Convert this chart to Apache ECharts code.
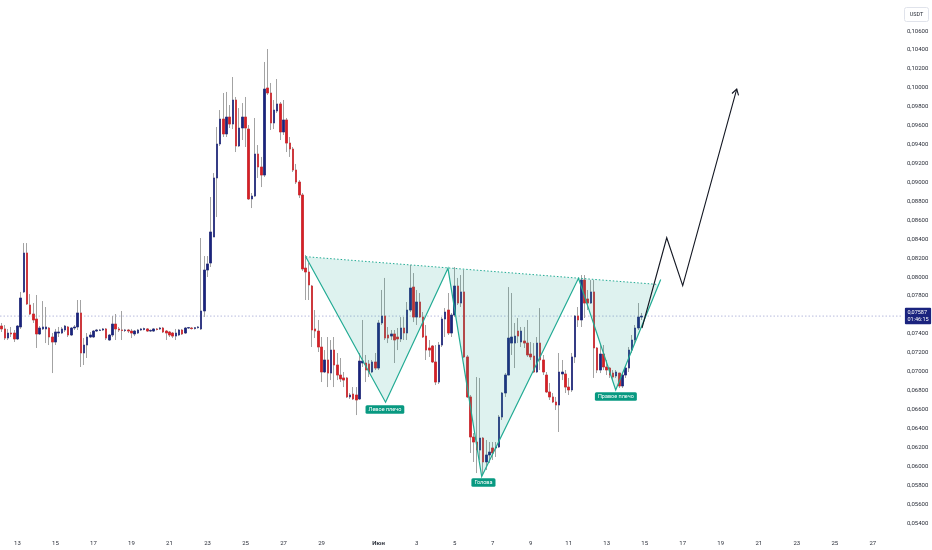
<!DOCTYPE html>
<html>
<head>
<meta charset="utf-8">
<script src="https://cdn.jsdelivr.net/npm/echarts@6/dist/echarts.min.js"></script>
<style>
html,body{margin:0;padding:0;background:#fff;}
#chart{width:932px;height:550px;}
</style>
</head>
<body>
<div id="chart"></div>
<script>
// 4h candles, first candle 12 May 04:00
const startTime = Date.UTC(2024, 4, 12, 4);
const slotCount = 285;
// [open, close, low, high]
const candles = [
[0.07482,0.07451,0.07419,0.07514],[0.07451,0.07355,0.07334,0.07493],[0.07355,0.07408,0.07334,0.07451],[0.07408,0.07398,0.07366,0.07472],
[0.07408,0.07345,0.07313,0.07440],[0.07345,0.07482,0.07334,0.07493],[0.07472,0.07778,0.07451,0.07842],[0.07842,0.08254,0.07831,0.08359],
[0.08254,0.07715,0.07704,0.08359],[0.07704,0.07609,0.07598,0.07820],[0.07609,0.07546,0.07514,0.07725],[0.07556,0.07398,0.07250,0.07810],
[0.07398,0.07461,0.07387,0.07482],[0.07451,0.07472,0.07440,0.07746],[0.07451,0.07472,0.07302,0.07683],[0.07461,0.07366,0.07281,0.07472],
[0.07366,0.07313,0.06985,0.07408],[0.07313,0.07419,0.07281,0.07451],[0.07408,0.07419,0.07366,0.07472],[0.07408,0.07451,0.07398,0.07472],
[0.07440,0.07482,0.07419,0.07493],[0.07472,0.07387,0.07366,0.07482],[0.07387,0.07461,0.07376,0.07472],[0.07461,0.07472,0.07440,0.07493],
[0.07472,0.07620,0.07440,0.07757],[0.07620,0.07197,0.07049,0.07757],[0.07197,0.07281,0.07070,0.07355],[0.07281,0.07366,0.07144,0.07408],
[0.07366,0.07387,0.07355,0.07419],[0.07366,0.07429,0.07355,0.07440],[0.07429,0.07440,0.07419,0.07451],[0.07436,0.07440,0.07429,0.07451],
[0.07440,0.07451,0.07429,0.07461],[0.07451,0.07355,0.07334,0.07461],[0.07334,0.07387,0.07324,0.07398],[0.07387,0.07503,0.07366,0.07588],
[0.07503,0.07451,0.07334,0.07609],[0.07451,0.07440,0.07419,0.07472],[0.07440,0.07436,0.07334,0.07641],[0.07436,0.07440,0.07419,0.07451],
[0.07440,0.07429,0.07408,0.07451],[0.07429,0.07408,0.07355,0.07451],[0.07398,0.07429,0.07376,0.07440],[0.07408,0.07440,0.07398,0.07451],
[0.07440,0.07451,0.07429,0.07461],[0.07445,0.07455,0.07436,0.07465],[0.07451,0.07429,0.07419,0.07461],[0.07429,0.07436,0.07419,0.07445],
[0.07429,0.07451,0.07419,0.07461],[0.07451,0.07445,0.07436,0.07461],[0.07451,0.07461,0.07440,0.07472],[0.07461,0.07419,0.07408,0.07472],
[0.07429,0.07408,0.07334,0.07440],[0.07419,0.07387,0.07366,0.07429],[0.07408,0.07376,0.07355,0.07419],[0.07376,0.07408,0.07334,0.07451],
[0.07387,0.07440,0.07376,0.07451],[0.07440,0.07398,0.07387,0.07451],[0.07408,0.07461,0.07398,0.07472],[0.07461,0.07465,0.07451,0.07472],
[0.07461,0.07455,0.07445,0.07472],[0.07455,0.07465,0.07445,0.07472],[0.07465,0.07472,0.07455,0.07482],[0.07451,0.07641,0.07440,0.08412],
[0.07641,0.08074,0.07577,0.08222],[0.08074,0.08138,0.08000,0.08222],[0.08148,0.08476,0.08106,0.08846],[0.08423,0.09047,0.08423,0.09099],
[0.09047,0.09406,0.08634,0.09586],[0.09406,0.09670,0.09385,0.09765],[0.09670,0.09512,0.09480,0.09945],[0.09512,0.09691,0.09480,0.09956],
[0.09691,0.09617,0.09575,0.09818],[0.09617,0.09871,0.09564,0.10114],[0.09871,0.09385,0.09321,0.09903],[0.09385,0.09575,0.09374,0.09786],
[0.09575,0.09691,0.09448,0.09839],[0.09691,0.09575,0.09374,0.09903],[0.09564,0.08825,0.08814,0.09607],[0.08825,0.08856,0.08729,0.08888],
[0.08856,0.09300,0.08846,0.09681],[0.09300,0.09163,0.09047,0.09395],[0.09163,0.09078,0.08951,0.09269],[0.09078,0.09987,0.09057,0.10273],
[0.09998,0.09945,0.09924,0.10410],[0.09945,0.09628,0.09554,0.10051],[0.09628,0.09765,0.09564,0.09871],[0.09755,0.09829,0.09734,0.10093],
[0.09829,0.09533,0.09448,0.09850],[0.09533,0.09660,0.09501,0.09871],[0.09660,0.09416,0.09321,0.09681],[0.09416,0.09353,0.09269,0.09480],
[0.09353,0.09131,0.09110,0.09374],[0.09131,0.09004,0.08983,0.09195],[0.09004,0.08867,0.08835,0.09025],[0.08867,0.08085,0.08064,0.08888],
[0.08095,0.08053,0.07757,0.08233],[0.08053,0.07916,0.07757,0.08148],[0.07905,0.07440,0.07260,0.07916],[0.07451,0.07429,0.07355,0.07651],
[0.07429,0.07260,0.07207,0.07546],[0.07260,0.06996,0.06890,0.07366],[0.06996,0.07123,0.06985,0.07228],[0.07123,0.06985,0.06837,0.07366],
[0.06985,0.07228,0.06911,0.07334],[0.07228,0.07070,0.06837,0.07366],[0.07070,0.06964,0.06911,0.07197],[0.06964,0.06922,0.06890,0.07144],
[0.06933,0.06911,0.06837,0.06996],[0.06933,0.06732,0.06721,0.06943],[0.06732,0.06753,0.06711,0.06774],[0.06763,0.06711,0.06700,0.06837],
[0.06753,0.06700,0.06541,0.06837],[0.06711,0.07112,0.06700,0.07197],[0.07091,0.07112,0.07049,0.07546],[0.07091,0.07017,0.06890,0.07176],
[0.07081,0.06996,0.06943,0.07123],[0.06996,0.07102,0.06985,0.07123],[0.07102,0.07038,0.07017,0.07197],[0.07038,0.07514,0.07017,0.07546],
[0.07514,0.07588,0.07493,0.07863],[0.07588,0.07355,0.07334,0.07990],[0.07387,0.07355,0.07302,0.07472],[0.07376,0.07398,0.07334,0.07440],
[0.07398,0.07334,0.07091,0.07440],[0.07366,0.07345,0.07228,0.07461],[0.07345,0.07461,0.07313,0.07577],[0.07461,0.07408,0.07334,0.07577],
[0.07408,0.07651,0.07334,0.07736],[0.07651,0.07884,0.07630,0.08127],[0.07894,0.07577,0.07524,0.08042],[0.07577,0.07736,0.07493,0.07863],
[0.07736,0.07577,0.07567,0.07831],[0.07577,0.07366,0.07355,0.07630],[0.07376,0.07228,0.07123,0.07493],[0.07250,0.07228,0.07155,0.07334],
[0.07271,0.07102,0.07091,0.07281],[0.07102,0.06890,0.06858,0.07281],[0.06890,0.07281,0.06869,0.07313],[0.07281,0.07556,0.07260,0.07577],
[0.07556,0.07630,0.07366,0.07672],[0.07651,0.07408,0.07387,0.07831],[0.07408,0.07598,0.07366,0.07620],[0.07598,0.07905,0.07577,0.08106],
[0.07905,0.07725,0.07704,0.07990],[0.07725,0.07842,0.07683,0.08021],[0.07842,0.07155,0.07144,0.08074],[0.07155,0.06732,0.06721,0.07176],
[0.06732,0.06309,0.06140,0.06753],[0.06309,0.06256,0.06045,0.06351],[0.06256,0.06171,0.05928,0.06943],[0.06171,0.06298,0.06066,0.06933],
[0.06298,0.06045,0.05907,0.06309],[0.06045,0.06119,0.05960,0.06277],[0.06119,0.06150,0.06034,0.06256],[0.06193,0.06140,0.06066,0.06256],
[0.06193,0.06203,0.06098,0.06256],[0.06203,0.06520,0.06193,0.06541],[0.06520,0.06774,0.06489,0.06785],[0.06774,0.06964,0.06732,0.06985],
[0.06964,0.07355,0.06964,0.07894],[0.07302,0.07366,0.07176,0.07831],[0.07302,0.07376,0.07038,0.07514],[0.07429,0.07376,0.07302,0.07567],
[0.07313,0.07429,0.07260,0.07472],[0.07324,0.07302,0.07250,0.07472],[0.07302,0.07176,0.07155,0.07546],[0.07186,0.07155,0.07123,0.07313],
[0.07165,0.06996,0.06985,0.07302],[0.06996,0.07302,0.06985,0.07366],[0.07302,0.07123,0.07017,0.07672],[0.07123,0.06996,0.06964,0.07176],
[0.06964,0.06785,0.06774,0.06996],[0.06785,0.06732,0.06700,0.06880],[0.06732,0.06679,0.06668,0.06774],[0.06679,0.06647,0.06594,0.06732],
[0.06647,0.06996,0.06362,0.07197],[0.06975,0.06996,0.06911,0.07123],[0.06975,0.06837,0.06774,0.07017],[0.06837,0.06806,0.06753,0.06933],
[0.06806,0.07155,0.06785,0.07197],[0.07155,0.07588,0.07091,0.07598],[0.07588,0.07546,0.07472,0.07683],[0.07546,0.07968,0.07472,0.08021],
[0.07968,0.07725,0.07567,0.08021],[0.07768,0.07725,0.07651,0.07863],[0.07725,0.07842,0.07715,0.07968],[0.07842,0.07250,0.06933,0.07968],
[0.07250,0.07017,0.06985,0.07260],[0.07017,0.07186,0.06985,0.07281],[0.07186,0.07049,0.07017,0.07281],[0.07049,0.07017,0.06964,0.07123],
[0.07038,0.06964,0.06933,0.07049],[0.06985,0.06943,0.06911,0.07017],[0.06954,0.06996,0.06933,0.07017],[0.06985,0.06848,0.06827,0.06985],
[0.06848,0.06964,0.06827,0.06975],[0.06964,0.07038,0.06933,0.07070],[0.07038,0.07228,0.06996,0.07260],[0.07228,0.07334,0.07197,0.07387],
[0.07334,0.07461,0.07302,0.07493],[0.07461,0.07577,0.07440,0.07725],[0.07577,0.07587,0.07546,0.07620]
];
const lastPrice = 0.07587;
const lastPriceText = '0,07587\n01:46:15';
// pattern drawing in [candle index, price]
const patternPts = [[96.0,0.08215],[121.2,0.06676],[140.9,0.08092],[151.55,0.05891],[182.1,0.07986],[193.85,0.06806],[208.05,0.07974]];
const necklinePts = [[96.0,0.08215],[207.4,0.07921]];
const projectionPts = [[202.15,0.07461],[209.95,0.08415],[215.0,0.07908],[232.05,0.09987]];
const patternLabels = [
  {text:'Левое плечо', pos:[121.0,0.06600]},
  {text:'Голова', pos:[152.1,0.05828]},
  {text:'Правое плечо', pos:[193.9,0.06737]}
];
const yMin = 0.054, yMax = 0.108, yStep = 0.002;

const categories = [];
for (let i = 0; i < slotCount; i++) {
  const d = new Date(startTime + i * 4 * 3600 * 1000);
  const s = d.getUTCFullYear() + '-' + String(d.getUTCMonth()+1).padStart(2,'0') + '-' +
    String(d.getUTCDate()).padStart(2,'0') + ' ' + String(d.getUTCHours()).padStart(2,'0');
  categories.push(s);
}
const bodies = candles.map(r => [r[0], r[1], Math.min(r[0], r[1]), Math.max(r[0], r[1])]);

const FONT = 'Roboto, "Liberation Sans", sans-serif';
const TEAL = '#22ab94';
const chart = echarts.init(document.getElementById('chart'), null, {renderer:'canvas'});
const bull = '#1a237e', bear = '#d81e25', wick = '#a3a3a3';

chart.setOption({
  animation: false,
  backgroundColor: '#ffffff',
  grid: {left: 0, right: 29.1, top: 12.12, bottom: 27},
  xAxis: [{
    type: 'category',
    data: categories,
    boundaryGap: true,
    axisLine: {show: false},
    axisTick: {show: false},
    splitLine: {show: false},
    axisLabel: {
      interval: function (idx, val) {
        const day = +val.slice(8, 10), hour = +val.slice(11, 13);
        return hour === 0 && day % 2 === 1 && day !== 31;
      },
      formatter: function (val) {
        const day = +val.slice(8, 10);
        return day === 1 ? '{m|Июн}' : String(day);
      },
      rich: {m: {fontWeight: 'bold', fontSize: 6, color: '#2a2e39', fontFamily: FONT}},
      fontSize: 6, color: '#2a2e39', fontFamily: FONT, margin: 17
    }
  }, {
    type: 'value', min: -0.5, max: slotCount - 0.5, show: false
  }],
  yAxis: {
    type: 'value', position: 'right', min: yMin, max: yMax, interval: yStep,
    axisLine: {show: false}, axisTick: {show: false}, splitLine: {show: false},
    axisLabel: {
      fontSize: 6, color: '#2a2e39', fontFamily: FONT, margin: 4,
      formatter: function (v) {
        if (v > 0.1065) return '';
        if (Math.abs(v - lastPrice) < 0.0006) return '';
        return v.toFixed(5).replace('.', ',');
      }
    }
  },
  series: [{
    type: 'candlestick', name: 'wick', data: candles, barWidth: 2,
    itemStyle: {color: wick, color0: wick, borderColor: wick, borderColor0: wick, borderWidth: 1},
    silent: true
  }, {
    type: 'candlestick', name: 'body', data: bodies, barWidth: 2,
    itemStyle: {color: bull, color0: bear, borderColor: bull, borderColor0: bear, borderWidth: 0.6},
    silent: true
  }, {
    type: 'line', name: 'last', xAxisIndex: 1, yAxisIndex: 0,
    data: [[-0.5, lastPrice], [slotCount - 0.5, lastPrice]],
    symbol: 'none', silent: true, z: 1, clip: false,
    lineStyle: {type: [1.5, 2], color: '#a4a9d6', width: 0.8},
    endLabel: {
      show: true, distance: 2, formatter: lastPriceText,
      backgroundColor: bull, color: '#fff', fontSize: 5.5, lineHeight: 7,
      padding: [1.5, 2.5, 1, 2.5], fontFamily: FONT, borderRadius: 1
    }
  }, {
    type: 'custom', name: 'drawing', xAxisIndex: 1, yAxisIndex: 0,
    data: [[0, 0.07]], clip: false, silent: true, z: 5,
    renderItem: function (params, api) {
      const pat = patternPts.map(p => api.coord(p));
      const neck = necklinePts.map(p => api.coord(p));
      const proj = projectionPts.map(p => api.coord(p));
      const poly = pat.slice(0, 6).concat([neck[1]]);
      const a = proj[proj.length - 1], b = proj[proj.length - 2];
      const ang = Math.atan2(a[1] - b[1], a[0] - b[0]);
      const L = 6.5, sp = 0.55;
      const h1 = [a[0] - L * Math.cos(ang - sp), a[1] - L * Math.sin(ang - sp)];
      const h2 = [a[0] - L * Math.cos(ang + sp), a[1] - L * Math.sin(ang + sp)];
      const children = [
        {type: 'polygon', shape: {points: poly}, style: {fill: 'rgba(34,171,148,0.15)', stroke: null}},
        {type: 'polyline', shape: {points: neck}, style: {stroke: TEAL, lineWidth: 1, lineDash: [1.5, 2], fill: null}},
        {type: 'polyline', shape: {points: pat}, style: {stroke: TEAL, lineWidth: 1.2, fill: null}},
        {type: 'polyline', shape: {points: proj}, style: {stroke: '#131722', lineWidth: 1.1, fill: null}},
        {type: 'polyline', shape: {points: [h1, a, h2]}, style: {stroke: '#131722', lineWidth: 1.1, fill: null}}
      ];
      patternLabels.forEach(l => {
        const c = api.coord(l.pos);
        children.push({
          type: 'text', x: c[0], y: c[1],
          style: {
            text: l.text, fill: '#ffffff', fontSize: 5.5, fontFamily: FONT,
            align: 'center', verticalAlign: 'middle',
            backgroundColor: '#089981', padding: [1.5, 3, 1, 3], borderRadius: 1.5
          }
        });
      });
      return {type: 'group', children: children};
    }
  }],
  graphic: [{
    type: 'group', right: 3, top: 7,
    children: [
      {type: 'rect', shape: {x: 0, y: 0, width: 24, height: 14, r: 2}, style: {fill: '#fff', stroke: '#e0e3eb', lineWidth: 1}},
      {type: 'text', x: 12, y: 7, style: {text: 'USDT', fontSize: 5.5, fill: '#2a2e39', fontFamily: FONT, align: 'center', verticalAlign: 'middle'}}
    ]
  }]
});
</script>
</body>
</html>
